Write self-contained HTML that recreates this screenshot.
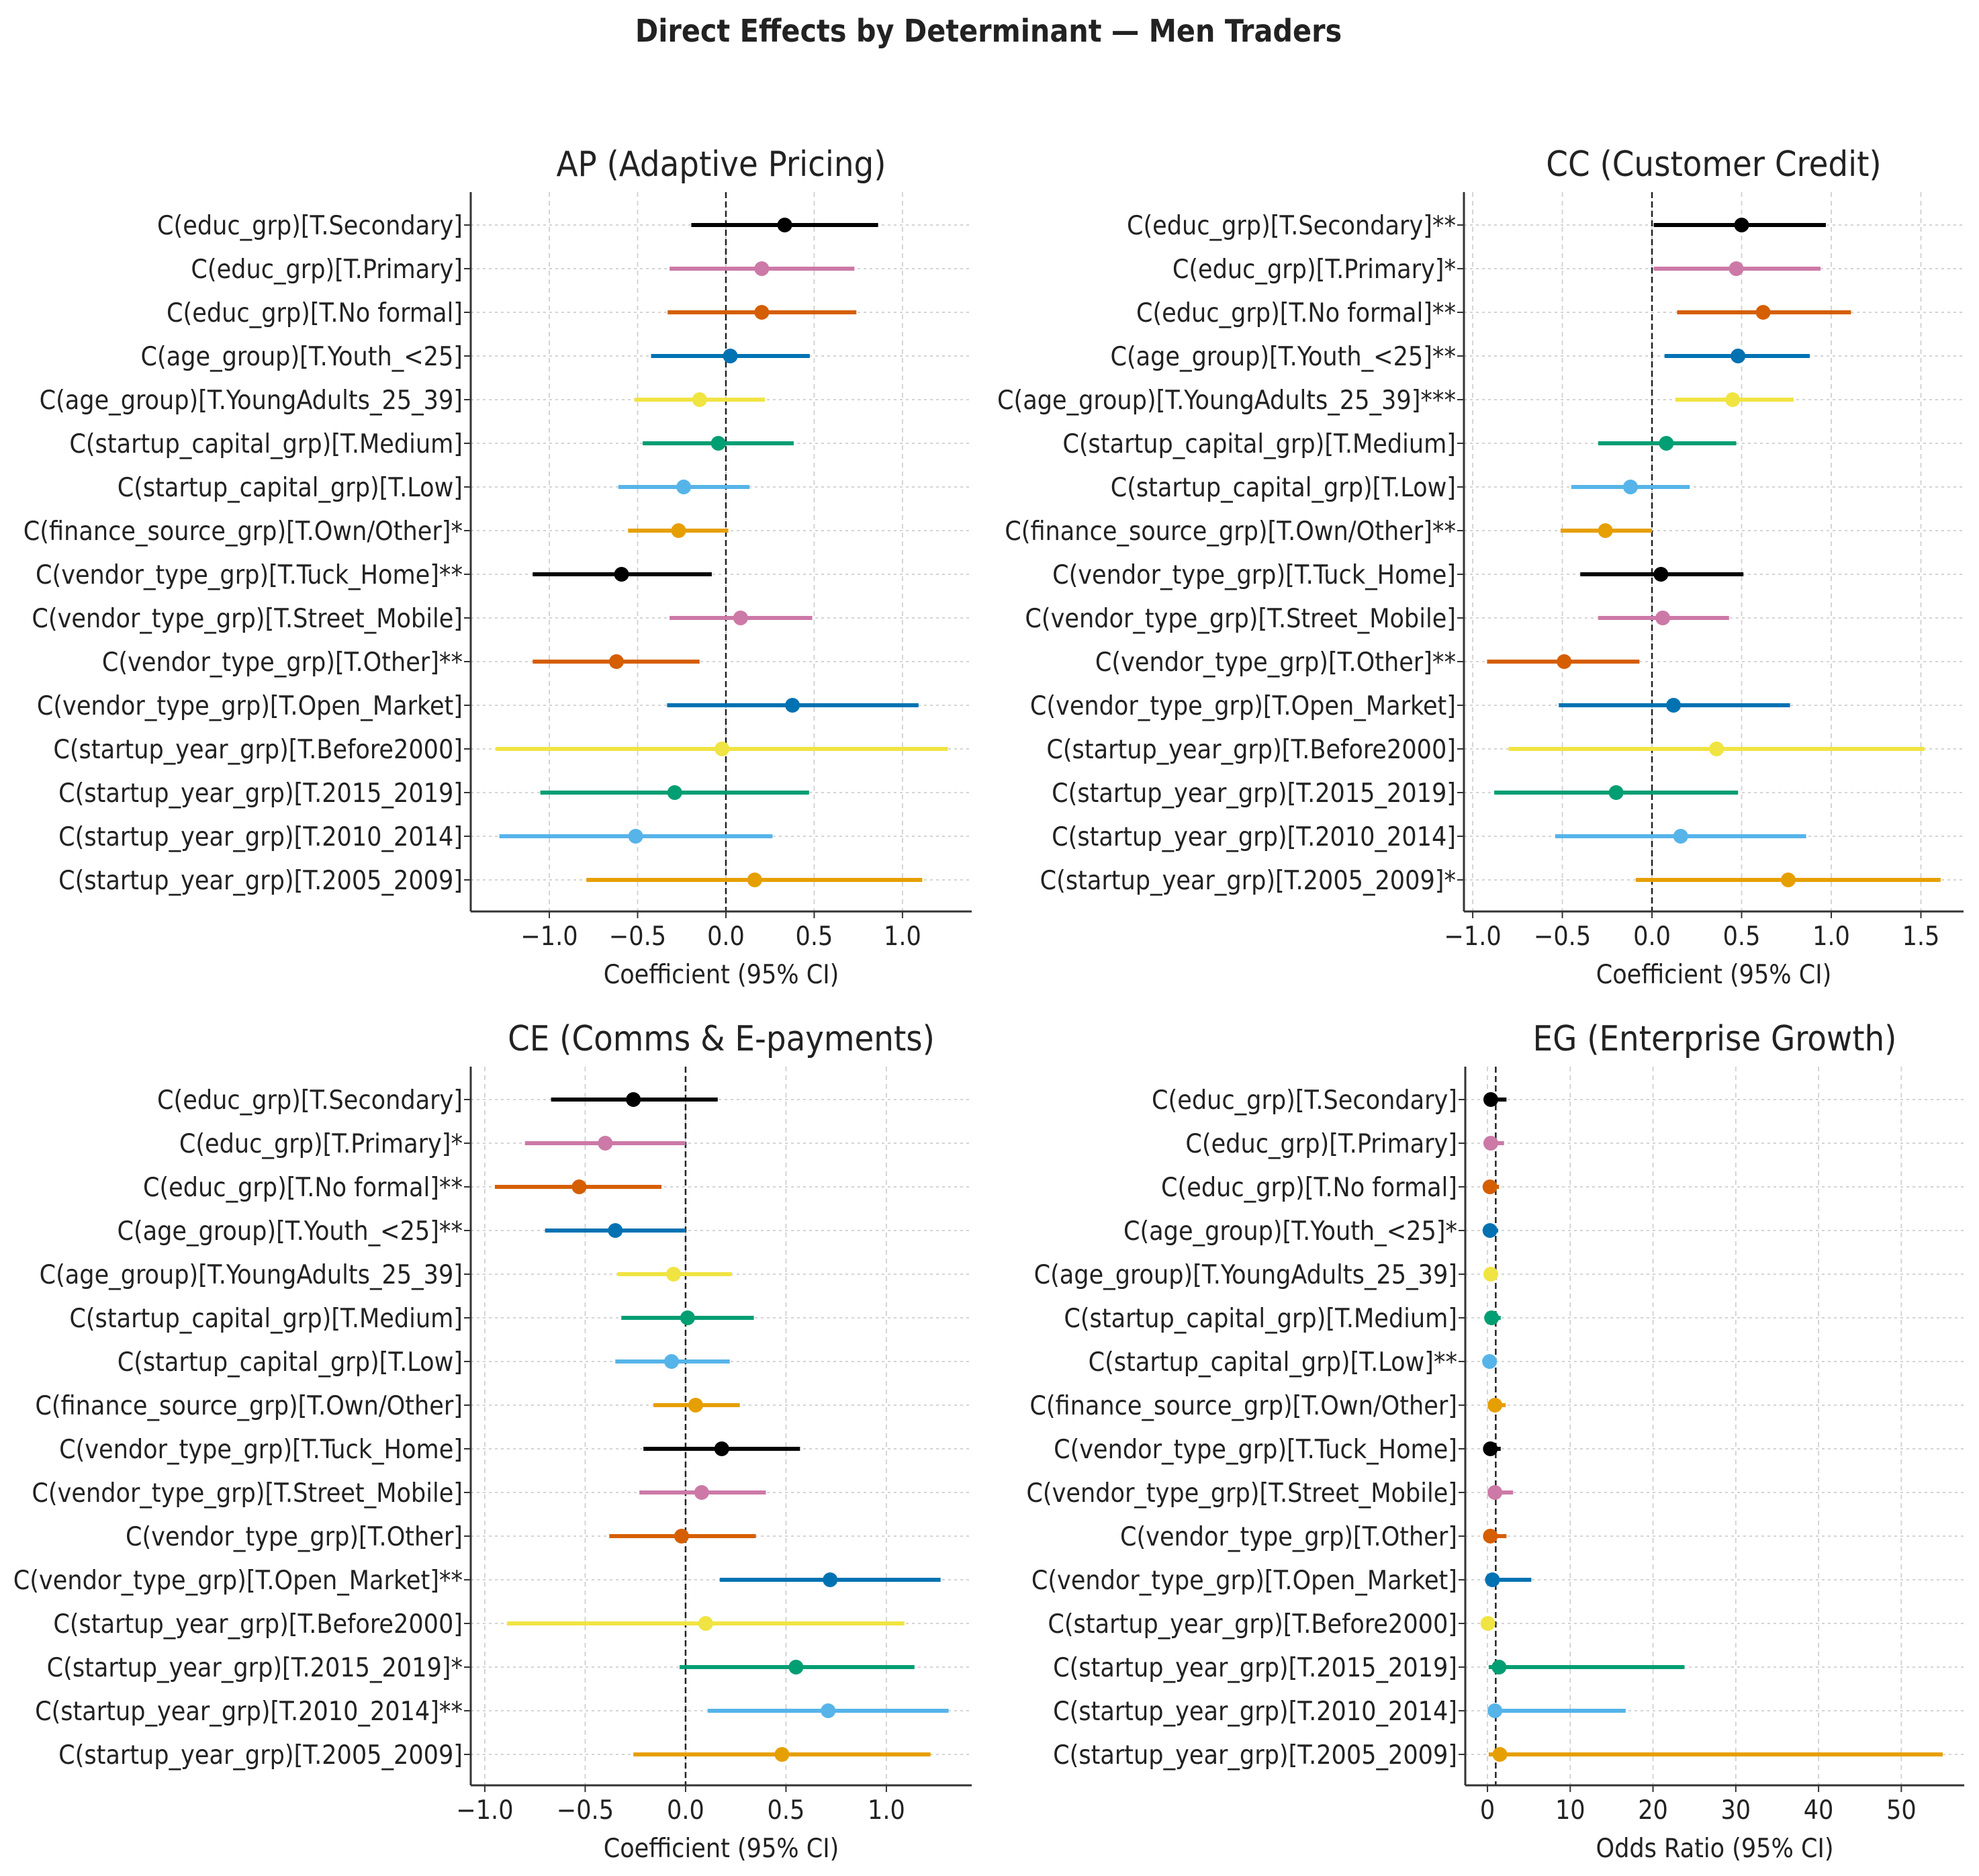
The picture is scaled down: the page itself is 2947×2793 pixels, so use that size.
<!DOCTYPE html>
<html><head><meta charset="utf-8">
<style>
html,body{margin:0;padding:0;background:#fff;}
svg{display:block;}
text{font-family:"DejaVu Sans Condensed","DejaVu Sans","Liberation Sans",sans-serif;fill:#222;}
</style></head>
<body>
<svg id="chart" width="2947" height="2793" viewBox="0 0 2947 2793" xmlns="http://www.w3.org/2000/svg">
<rect width="2947" height="2793" fill="#fff"/>
<text x="1472" y="62" text-anchor="middle" font-size="46" font-weight="bold">Direct Effects by Determinant — Men Traders</text>
</svg>
<script>
const baseLabels = ["C(educ_grp)[T.Secondary]","C(educ_grp)[T.Primary]","C(educ_grp)[T.No formal]","C(age_group)[T.Youth_<25]","C(age_group)[T.YoungAdults_25_39]","C(startup_capital_grp)[T.Medium]","C(startup_capital_grp)[T.Low]","C(finance_source_grp)[T.Own/Other]","C(vendor_type_grp)[T.Tuck_Home]","C(vendor_type_grp)[T.Street_Mobile]","C(vendor_type_grp)[T.Other]","C(vendor_type_grp)[T.Open_Market]","C(startup_year_grp)[T.Before2000]","C(startup_year_grp)[T.2015_2019]","C(startup_year_grp)[T.2010_2014]","C(startup_year_grp)[T.2005_2009]"];
const apStars = ["","","","","","","","*","**","","**","","","","",""];
const ccStars = ["**","*","**","**","***","","","**","","","**","","","","","*"];
const ceStars = ["","*","**","**","","","","","","","","**","","*","**",""];
const egStars = ["","","","*","","","**","","","","","","","","",""];
const apEst = [0.333,0.203,0.203,0.025,-0.149,-0.043,-0.239,-0.268,-0.591,0.083,-0.62,0.377,-0.022,-0.29,-0.511,0.163];
const apLo  = [-0.196,-0.319,-0.33,-0.424,-0.518,-0.471,-0.609,-0.554,-1.094,-0.319,-1.094,-0.333,-1.304,-1.051,-1.283,-0.79];
const apHi  = [0.862,0.728,0.739,0.475,0.221,0.384,0.134,0.014,-0.08,0.489,-0.149,1.091,1.257,0.471,0.264,1.112];
const ccEst = [0.50,0.47,0.62,0.48,0.45,0.08,-0.12,-0.26,0.05,0.06,-0.49,0.12,0.36,-0.20,0.16,0.76];
const ccLo  = [0.01,0.01,0.14,0.07,0.13,-0.30,-0.45,-0.51,-0.40,-0.30,-0.92,-0.52,-0.80,-0.88,-0.54,-0.09];
const ccHi  = [0.97,0.94,1.11,0.88,0.79,0.47,0.21,0.0,0.51,0.43,-0.07,0.77,1.52,0.48,0.86,1.61];
const ceEst = [-0.26,-0.40,-0.53,-0.35,-0.06,0.01,-0.07,0.05,0.18,0.08,-0.02,0.72,0.10,0.55,0.71,0.48];
const ceLo  = [-0.67,-0.80,-0.95,-0.70,-0.34,-0.32,-0.35,-0.16,-0.21,-0.23,-0.38,0.17,-0.89,-0.03,0.11,-0.26];
const ceHi  = [0.16,0.0,-0.12,0.0,0.23,0.34,0.22,0.27,0.57,0.40,0.35,1.27,1.09,1.14,1.31,1.22];
const egEst = [0.4,0.4,0.3,0.3,0.4,0.5,0.25,0.9,0.35,0.9,0.35,0.6,0.05,1.4,0.9,1.5];
const egLo  = [0.1,0.1,0.1,0.1,0.1,0.1,0.1,0.2,0.1,0.2,0.1,0.1,0.0,0.15,0.1,0.15];
const egHi  = [2.3,2.0,1.4,1.3,0.9,1.6,0.6,2.2,1.6,3.1,2.3,5.3,0.2,23.8,16.7,55.0];
const linTicks = [-1.0,-0.5,0.0,0.5,1.0];
const ccTicks = [-1.0,-0.5,0.0,0.5,1.0,1.5];
const egTicks = [0,10,20,30,40,50];
const colors = ["#000000","#CC79A7","#D55E00","#0072B2","#F0E442","#009E73","#56B4E9","#E69F00"];

const NS = "http://www.w3.org/2000/svg";
const svg = document.getElementById('chart');
function mk(tag, attrs, parent){const e=document.createElementNS(NS,tag);for(const k in attrs)e.setAttribute(k,attrs[k]);(parent||svg).appendChild(e);return e;}

const panels = [
 {key:"ap",title:"AP (Adaptive Pricing)",xl:701,xr:1447,yt:286,yb:1357,row0:335,xmin:-1.445,xmax:1.392,ticks:linTicks,est:apEst,lo:apLo,hi:apHi,stars:apStars,ref:0,xlabel:"Coefficient (95% CI)",tf:(v)=>v.toFixed(1).replace('-','\u2212')},
 {key:"cc",title:"CC (Customer Credit)",xl:2180,xr:2924,yt:286,yb:1357,row0:335,xmin:-1.049,xmax:1.738,ticks:ccTicks,est:ccEst,lo:ccLo,hi:ccHi,stars:ccStars,ref:0,xlabel:"Coefficient (95% CI)",tf:(v)=>v.toFixed(1).replace('-','\u2212')},
 {key:"ce",title:"CE (Comms & E-payments)",xl:701,xr:1447,yt:1588,yb:2658,row0:1637,xmin:-1.07,xmax:1.425,ticks:linTicks,est:ceEst,lo:ceLo,hi:ceHi,stars:ceStars,ref:0,xlabel:"Coefficient (95% CI)",tf:(v)=>v.toFixed(1).replace('-','\u2212')},
 {key:"eg",title:"EG (Enterprise Growth)",xl:2182,xr:2925,yt:1588,yb:2658,row0:1637,xmin:-2.68,xmax:57.6,ticks:egTicks,est:egEst,lo:egLo,hi:egHi,stars:egStars,ref:1,xlabel:"Odds Ratio (95% CI)",tf:(v)=>String(v)}
];
const rowGap = 65;

panels.forEach(p=>{
  const g = mk('g',{});
  
  
  const X = v => p.xl + (v - p.xmin)/(p.xmax - p.xmin)*(p.xr - p.xl);
  const Y = i => p.row0 + i*rowGap;
  const t = mk('text',{x:(p.xl+p.xr)/2,y:p.yt-24,'text-anchor':'middle','font-size':52},g);
  t.textContent = p.title;
  
  
  p.ticks.forEach(tv=>{
    const gl = mk('line',{x1:X(tv),x2:X(tv),y1:p.yt,y2:p.yb,stroke:'#d4d4d4','stroke-width':2,'stroke-dasharray':'7,6'},g);
    
    
    mk('line',{x1:X(tv),x2:X(tv),y1:p.yb,y2:p.yb+10,stroke:'#333','stroke-width':2},g);
    const tl = mk('text',{x:X(tv),y:p.yb+50,'text-anchor':'middle','font-size':39},g);
    tl.textContent = p.tf(tv);
    
    
  });
  baseLabels.forEach((lab,i)=>{
    const y = Y(i);
    const hl = mk('line',{x1:p.xl,x2:p.xr,y1:y,y2:y,stroke:'#d4d4d4','stroke-width':2,'stroke-dasharray':'4,5'},g);
    
    
    mk('line',{x1:p.xl-10,x2:p.xl,y1:y,y2:y,stroke:'#333','stroke-width':2},g);
    const tl = mk('text',{x:p.xl-12,y:y+14,'text-anchor':'end','font-size':39},g);
    tl.textContent = lab + p.stars[i];
    
    
  });
  const rl = mk('line',{x1:X(p.ref),x2:X(p.ref),y1:p.yt,y2:p.yb,stroke:'#222','stroke-width':2.5,'stroke-dasharray':'9,5'},g);
  
  
  p.est.forEach((v,i)=>{
    const c = colors[i%8];
    const y = Y(i);
    const eb = mk('line',{x1:X(p.lo[i]),x2:X(p.hi[i]),y1:y,y2:y,stroke:c,'stroke-width':6},g);
    
    
    const pt = mk('circle',{cx:X(v),cy:y,r:11,fill:c},g);
    
    
  });
  mk('line',{x1:p.xl,x2:p.xl,y1:p.yt,y2:p.yb,stroke:'#333','stroke-width':3},g);
  mk('line',{x1:p.xl,x2:p.xr,y1:p.yb,y2:p.yb,stroke:'#333','stroke-width':3},g);
  const xl = mk('text',{x:(p.xl+p.xr)/2,y:p.yb+107,'text-anchor':'middle','font-size':39},g);
  xl.textContent = p.xlabel;
  
  
});
</script>
</body></html>
